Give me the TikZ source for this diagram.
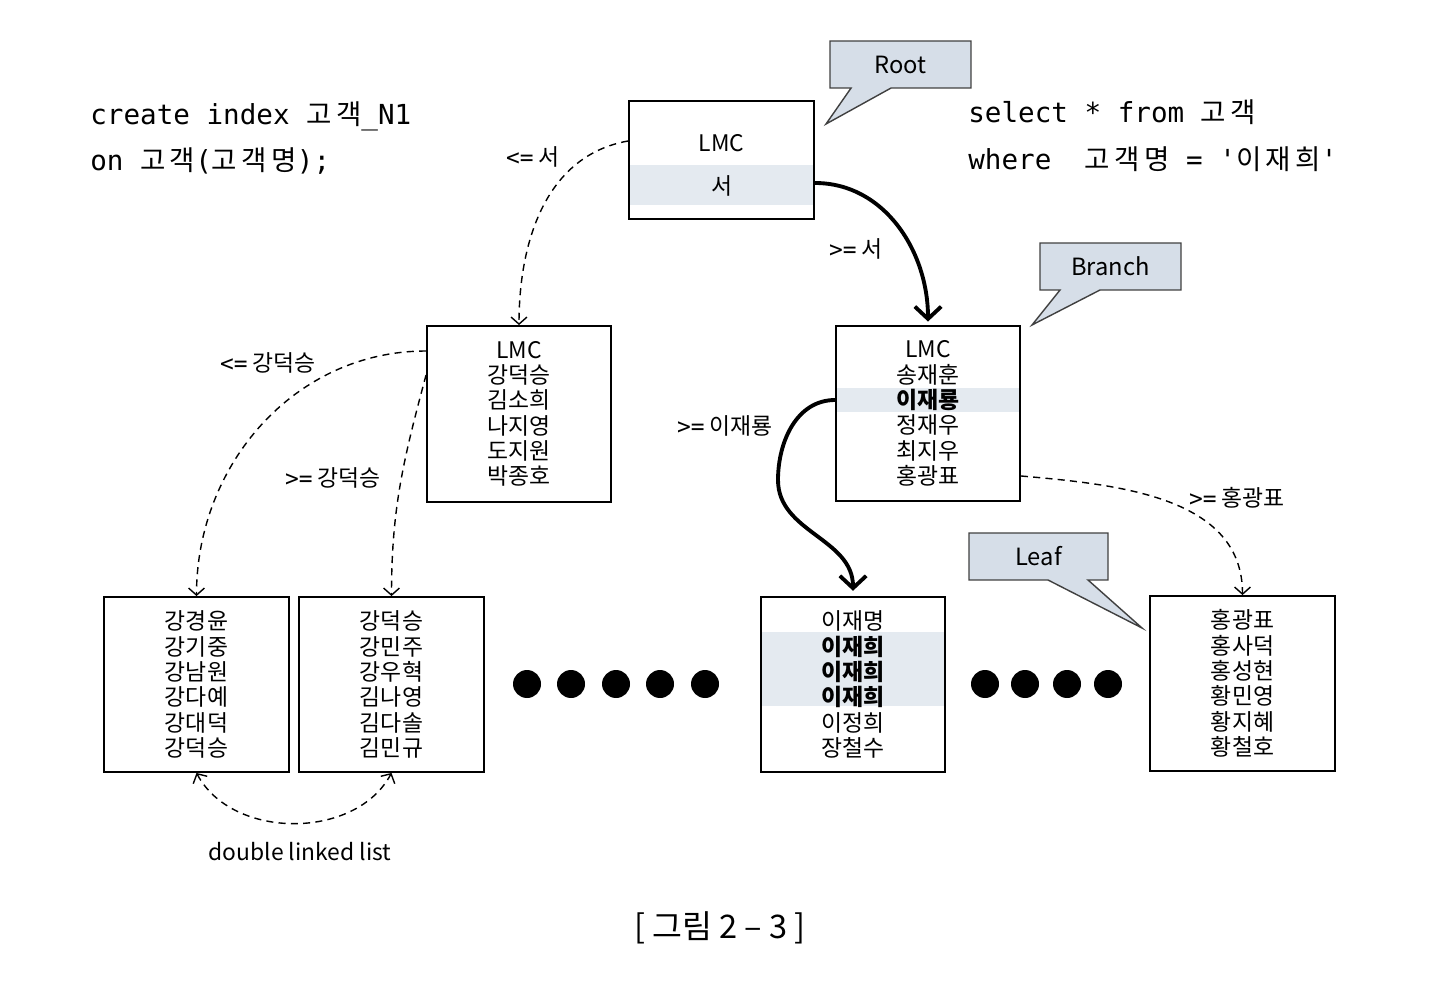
\documentclass[tikz,border=0pt]{standalone}
\usepackage{fontspec}
\setmainfont{Noto Sans CJK KR}
\setmonofont{DejaVu Sans Mono}
\newfontfamily\kofont{Noto Sans CJK KR}[LetterSpace=16]
\newcommand\ko[1]{{\kofont #1}}
\usetikzlibrary{arrows.meta, shapes.callouts, backgrounds}
\definecolor{tagfill}{RGB}{214,222,232}
\definecolor{bandfill}{RGB}{228,234,240}

\begin{document}
\begin{tikzpicture}[x=0.02cm, y=-0.02cm,
        idxbox/.style={draw, line width=1.1pt, minimum width=3.7cm, minimum height=3.5cm,
            align=center, font=\fontsize{13}{14.4}\selectfont},
        tag/.style={rectangle callout, draw=black!75, fill=tagfill, line width=0.8pt,
            minimum width=2.82cm, minimum height=0.94cm, callout pointer width=0.8cm,
            font=\fontsize{13.5}{15}\selectfont},
        dashlink/.style={dashed, dash pattern=on 4pt off 3pt, line width=0.8pt,
            -{Straight Barb[length=4pt, width=9pt]}},
        thicklink/.style={line width=2.2pt, -{Straight Barb[length=7pt, width=15pt]}},
        lbl/.style={font=\fontsize{13}{15}\selectfont},
        code/.style={anchor=base west, inner sep=0pt, font=\ttfamily\fontsize{15.7}{18}\selectfont}
    ]
        \useasboundingbox (0,0) rectangle (1440,1000);

        % sql
        \node[code] (crt) at (90,125) {create index \ko{고객}\_N1};
        \node[code] (crt2) at (90,171) {on \ko{고객}(\ko{고객명});};
        \node[code] (sel) at (968,123) {select * from \ko{고객}};
        \node[code] (sel2) at (968,170) {where~~\ko{고객명} = '\ko{이재희}'};

        % index blocks
        \node[idxbox, minimum height=2.36cm] (root) at (721.5,160) {\\[1pt]LMC\\[10pt]서};
        \node[idxbox, minimum width=3.68cm, minimum height=3.52cm] (lbr) at (519,414)
            {LMC\\강덕승\\김소희\\나지영\\도지원\\박종호};
        \node[idxbox, minimum width=3.68cm] (rbr) at (928,413.5)
            {LMC\\송재훈\\\textbf{이재룡}\\정재우\\최지우\\홍광표};
        \node[idxbox] (leaf1) at (196.5,684.5) {강경윤\\강기중\\강남원\\강다예\\강대덕\\강덕승};
        \node[idxbox] (leaf2) at (391.5,684.5) {강덕승\\강민주\\강우혁\\김나영\\김다솔\\김민규};
        \node[idxbox, minimum width=3.68cm] (leaf3) at (853,684.5)
            {이재명\\\textbf{이재희}\\\textbf{이재희}\\\textbf{이재희}\\이정희\\장철수};
        \node[idxbox] (leaf4) at (1242.5,683.5) {홍광표\\홍사덕\\홍성현\\황민영\\황지혜\\황철호};

        \begin{scope}[on background layer]
            \fill[bandfill] (root.west |- 0,165) rectangle (root.east |- 0,205);
            \fill[bandfill] (rbr.west |- 0,388) rectangle (rbr.east |- 0,412);
            \fill[bandfill] (leaf3.west |- 0,632) rectangle (leaf3.east |- 0,706);
        \end{scope}

        % callouts
        \node[tag, callout absolute pointer={(826,124)}] (roottag) at (900.5,64.5) {Root};
        \node[tag, callout absolute pointer={(1032,325)}] (brtag) at (1110.5,266.5) {Branch};
        \node[tag, minimum width=2.78cm, callout absolute pointer={(1142,628)}] (leaftag) at (1038.5,556.5) {Leaf};

        % links
        \draw[dashlink] ([yshift=0.38cm]root.west) to[out=190, in=90] (lbr.north);
        \draw[thicklink] ([yshift=-0.46cm]root.east) to[out=0, in=90] ([yshift=2pt]rbr.north);
        \draw[dashlink] ([yshift=1.26cm]lbr.west) to[out=180, in=90] (leaf1.north);
        \draw[dashlink] ([yshift=0.78cm]lbr.west) to[out=255, in=90] (leaf2.north);
        \coordinate (bend) at (778,480);
        \draw[thicklink] ([yshift=0.27cm]rbr.west) to[out=180, in=90] (bend)
            to[out=270, in=90] ([yshift=3pt]leaf3.north);
        \draw[dashlink] ([yshift=-1.25cm]rbr.east) to[out=-5, in=90] (leaf4.north);
        \draw[dashlink, {Straight Barb[length=4pt, width=9pt]}-{Straight Barb[length=4pt, width=9pt]}]
            (leaf1.south) to[out=-62, in=-118] (leaf2.south);

        % labels
        \node[lbl] (l1) at (533,157) {\texttt{<=} 서};
        \node[lbl] (l2) at (856,249) {\texttt{>=} 서};
        \node[lbl] (l3) at (268,363) {\texttt{<=} 강덕승};
        \node[lbl] (l4) at (333,478) {\texttt{>=} 강덕승};
        \node[lbl] (l5) at (725,426) {\texttt{>=} 이재룡};
        \node[lbl] (l6) at (1237,498) {\texttt{>=} 홍광표};
        \node[lbl] (dll) at (300,852) {double linked list};

        % more leaves
        \foreach \x in {527,571,616,660,705} \fill (\x,684) circle (0.28cm);
        \foreach \x in {985,1025,1067,1108} \fill (\x,684) circle (0.28cm);

        \node[font=\fontsize{18.5}{22}\selectfont] (cap) at (720,928) {[ 그림 2 – 3 ]};
    \end{tikzpicture}
\end{document}
